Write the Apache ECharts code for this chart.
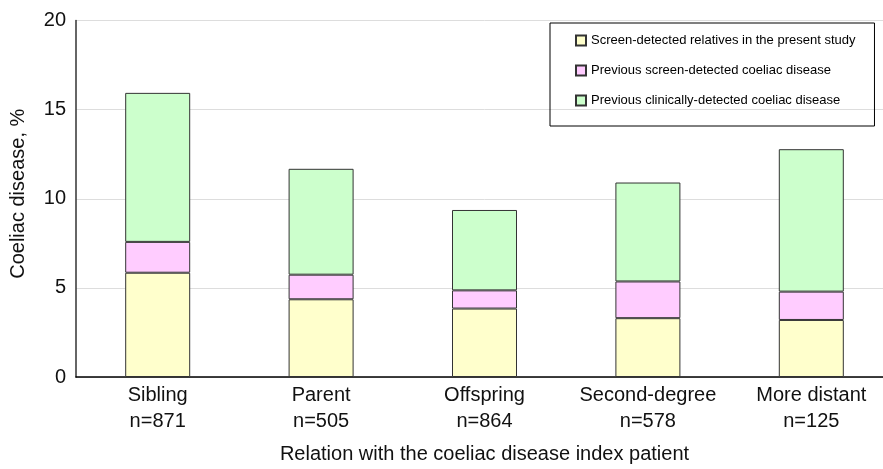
<!DOCTYPE html>
<html>
<head>
<meta charset="utf-8">
<script src="https://cdn.jsdelivr.net/npm/echarts@6/dist/echarts.min.js"></script>
<style>html,body{margin:0;padding:0;background:#fff;overflow:hidden;width:883px;height:469px}#c{width:893px;height:469px}</style>
</head>
<body>
<div id="c"></div>
<script>
const categories = ['Sibling', 'Parent', 'Offspring', 'Second-degree', 'More distant'];
const sampleSizes = [871, 505, 864, 578, 125];
const screenDetectedPresent = [5.85, 4.36, 3.84, 3.30, 3.20];
const previousScreenDetected = [1.73, 1.38, 1.02, 2.06, 1.59];
const previousClinicallyDetected = [8.36, 5.94, 4.51, 5.55, 7.99];
const seriesNames = [
  'Screen-detected relatives in the present study',
  'Previous screen-detected coeliac disease',
  'Previous clinically-detected coeliac disease'
];
const yTicks = [0, 5, 10, 15, 20];

const font = "'Liberation Sans', Arial, Helvetica, sans-serif";
const colors = ['#FFFFCC', '#FFCCFF', '#CCFFCC'];
const labels = categories.map((c, i) => c + '\nn=' + sampleSizes[i]);
const values = [screenDetectedPresent, previousScreenDetected, previousClinicallyDetected];

const chart = echarts.init(document.getElementById('c'), null, {renderer: 'canvas'});
chart.setOption({
  animation: false,
  backgroundColor: '#fff',
  textStyle: {fontFamily: font},
  grid: {left: 76, right: 0, top: 20.5, bottom: 91, containLabel: false},
  legend: {
    orient: 'vertical',
    left: 550,
    top: 23,
    padding: [11, 19, 19, 25],
    itemGap: 17,
    itemWidth: 10,
    itemHeight: 10,
    borderColor: '#000',
    borderWidth: 1,
    icon: 'rect',
    data: seriesNames,
    textStyle: {fontSize: 13, color: '#000', fontFamily: font}
  },
  xAxis: {
    type: 'category',
    data: labels,
    axisLine: {lineStyle: {color: '#000', width: 1.5}},
    axisTick: {show: false},
    axisLabel: {fontSize: 20, color: '#111', lineHeight: 26, margin: 5, fontFamily: font, interval: 0},
    name: 'Relation with the coeliac disease index patient',
    nameLocation: 'middle',
    nameGap: 67,
    nameTextStyle: {fontSize: 20, color: '#111', fontFamily: font}
  },
  yAxis: {
    type: 'value',
    min: yTicks[0],
    max: yTicks[yTicks.length - 1],
    interval: 5,
    axisLine: {show: true, lineStyle: {color: '#333', width: 1.5}},
    axisTick: {show: false},
    splitLine: {lineStyle: {color: '#dddddd', width: 1}},
    axisLabel: {fontSize: 20, color: '#111', margin: 10, fontFamily: font},
    name: 'Coeliac disease, %',
    nameLocation: 'middle',
    nameRotate: 90,
    nameGap: 48,
    nameTextStyle: {fontSize: 20, color: '#111', fontFamily: font, padding: [0, 0, 0, 10]}
  },
  series: seriesNames.map((name, k) => ({
    name: name,
    type: 'bar',
    stack: 'total',
    barWidth: 65,
    data: values[k],
    itemStyle: {color: colors[k], borderColor: '#333', borderWidth: 1},
    emphasis: {disabled: true}
  }))
});
</script>
</body>
</html>
